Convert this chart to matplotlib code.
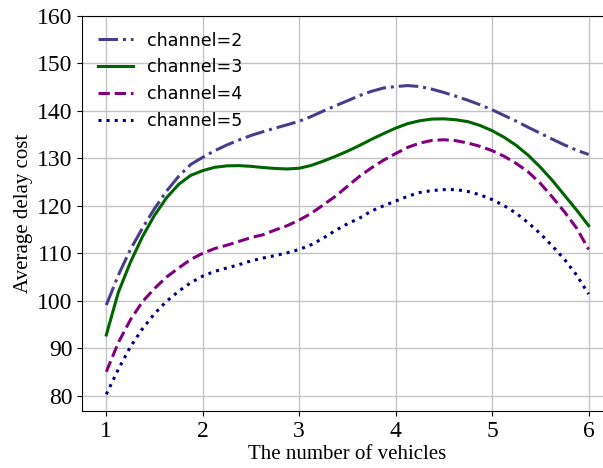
import numpy as np
import matplotlib
matplotlib.use('Agg')  # no display
import matplotlib.pyplot as plt

# values at steps of 0.125 vehicles
vehicles = [1.0, 1.125, 1.25, 1.375, 1.5, 1.625, 1.75, 1.875,
            2.0, 2.125, 2.25, 2.375, 2.5, 2.625, 2.75, 2.875,
            3.0, 3.125, 3.25, 3.375, 3.5, 3.625, 3.75, 3.875,
            4.0, 4.125, 4.25, 4.375, 4.5, 4.625, 4.75, 4.875,
            5.0, 5.125, 5.25, 5.375, 5.5, 5.625, 5.75, 5.875, 6.0]

channel_2 = [99.1, 105.4, 110.8, 115.3, 119.4, 123.1, 126.2, 128.7,
             130.2, 131.6, 132.8, 133.85, 134.8, 135.6, 136.35, 137.05,
             137.8, 138.8, 139.95, 141.05, 142.1, 143.2, 144.1, 144.8,
             145.1, 145.3, 145.1, 144.55, 143.85, 143.05, 142.2, 141.25,
             140.2, 139.0, 137.8, 136.5, 135.25, 134.0, 132.8, 131.7, 130.8]
channel_3 = [92.8, 101.8, 108.1, 113.5, 118.0, 121.7, 124.5, 126.4,
             127.4, 128.1, 128.4, 128.45, 128.3, 128.05, 127.85, 127.75,
             127.9, 128.5, 129.4, 130.4, 131.5, 132.7, 134.0, 135.2,
             136.35, 137.3, 137.9, 138.25, 138.3, 138.1, 137.7, 136.9,
             135.8, 134.4, 132.7, 130.6, 128.1, 125.3, 122.2, 119.1, 115.8]
channel_4 = [85.05, 91.2, 96.0, 99.8, 102.6, 105.0, 106.9, 108.7,
             110.0, 111.0, 111.7, 112.5, 113.3, 113.9, 114.9, 115.8,
             117.0, 118.4, 120.2, 122.0, 124.1, 126.2, 128.0, 129.6,
             131.0, 132.3, 133.2, 133.75, 133.9, 133.7, 133.2, 132.5,
             131.6, 130.4, 128.9, 127.1, 124.7, 121.8, 118.7, 115.3, 110.8]
channel_5 = [80.3, 85.6, 90.3, 94.1, 97.3, 99.9, 102.0, 103.8,
             105.2, 106.2, 106.9, 107.6, 108.4, 109.0, 109.5, 110.1,
             110.8, 111.8, 113.2, 114.8, 116.2, 117.4, 118.9, 120.0,
             121.0, 122.0, 122.8, 123.2, 123.4, 123.4, 123.0, 122.3,
             121.3, 120.0, 118.4, 116.4, 114.1, 111.5, 108.7, 105.4, 101.4]

series_labels = ['channel=2', 'channel=3', 'channel=4', 'channel=5']
x_ticks = [1, 2, 3, 4, 5, 6]
y_ticks = [80, 90, 100, 110, 120, 130, 140, 150, 160]

fig = plt.figure(figsize=(6.03, 4.68), dpi=100)
# right edge runs past the figure, the reference is cropped there
ax = fig.add_axes([0.1363, 0.1214, 0.8799, 0.8449])

ax.plot(vehicles, channel_2, color='darkslateblue', linestyle='-.', lw=2.2, label=series_labels[0])
ax.plot(vehicles, channel_3, color='darkgreen', linestyle='-', lw=2.2, label=series_labels[1])
ax.plot(vehicles, channel_4, color='purple', linestyle='--', lw=2.2, label=series_labels[2])
ax.plot(vehicles, channel_5, color='navy', linestyle=':', lw=2.2, label=series_labels[3])

ax.set_xlim(0.75, 6.25)
ax.set_ylim(76.75, 160)
ax.set_xticks(x_ticks)
ax.set_yticks(y_ticks)
ax.grid(True, color='#c4c4c4', lw=1)
ax.set_axisbelow(True)

serif = ['Liberation Serif', 'DejaVu Serif']
for lab in ax.get_xticklabels() + ax.get_yticklabels():
    lab.set_family(serif)
    lab.set_fontsize(17)
ax.set_xlabel('The number of vehicles', family=serif, fontsize=15, labelpad=2)
ax.set_ylabel('Average delay cost', family=serif, fontsize=15, labelpad=3)

ax.legend(loc='upper left', frameon=False, prop={'family': 'DejaVu Sans', 'size': 12.6})

fig.savefig('out.png', dpi=100)
plt.close(fig)
